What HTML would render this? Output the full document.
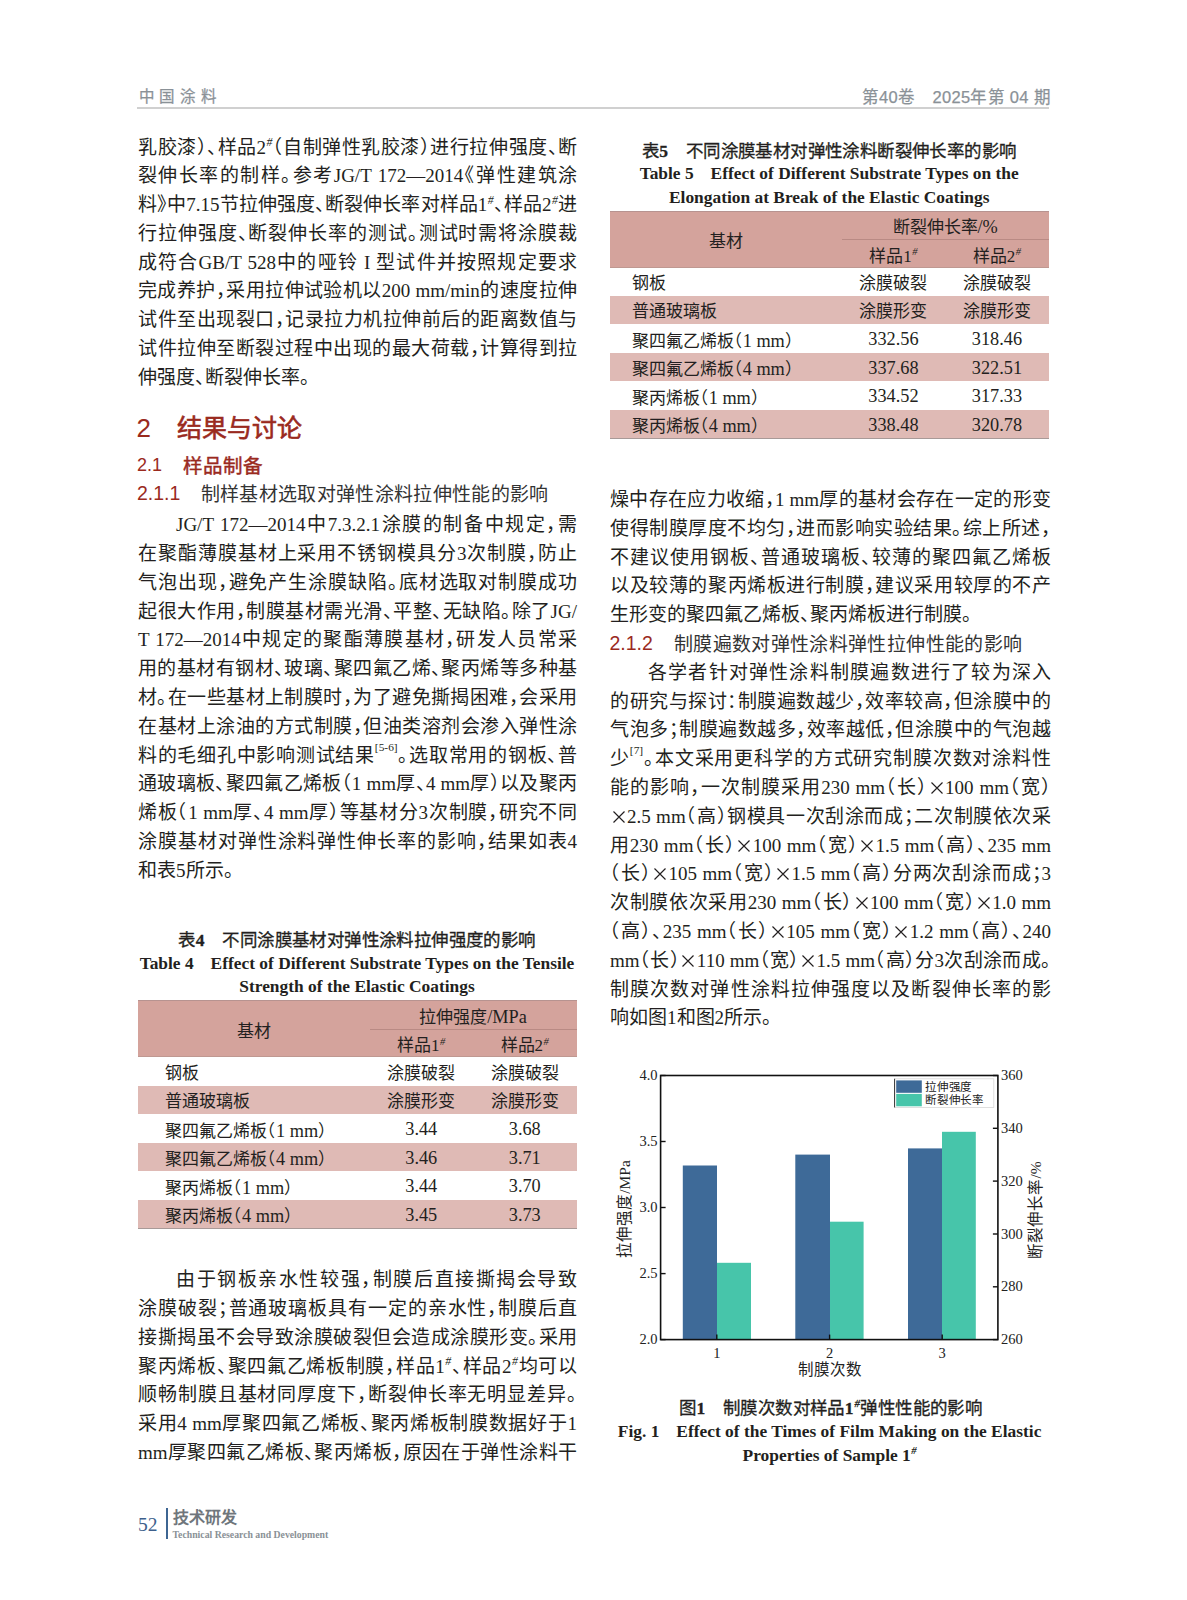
<!DOCTYPE html>
<html lang="zh-CN"><head><meta charset="utf-8"><title>page</title><style>
*{margin:0;padding:0}
html,body{width:1187px;height:1600px;background:#fff;overflow:hidden}
body{position:relative;font-family:"Liberation Serif",serif;color:#231f20}
div{position:absolute;white-space:nowrap}
.ln{font-size:19px;line-height:29px;height:29px;text-align:justify;text-align-last:justify;font-feature-settings:"halt"}
.ln.L{text-align:left;text-align-last:left}
.ln.I{padding-left:38px;box-sizing:border-box}
.x{display:inline-block;width:14px;height:14px;margin:0 1.5px;vertical-align:-1px}
i.h{font-style:italic;font-size:0.62em;position:relative;top:-0.62em;line-height:0;margin-left:0.5px}
i.r{font-style:normal;font-size:0.6em;position:relative;top:-0.95em;line-height:0}
.hd{font-family:"Liberation Sans",sans-serif;color:#8a9197;font-size:15px;line-height:18px;-webkit-text-stroke:0.25px #8a9197}
.h1n{font-family:"Liberation Sans",sans-serif;color:#9a2a1e;font-size:26px;line-height:30px}
.h1{font-family:"Liberation Sans",sans-serif;color:#9a2a1e;font-size:25px;line-height:30px;-webkit-text-stroke:0.6px #9a2a1e}
.h2{font-family:"Liberation Sans",sans-serif;color:#9a2a1e;font-size:18px;line-height:24px}
.h2c{font-family:"Liberation Sans",sans-serif;color:#9a2a1e;font-size:19.5px;line-height:24px;-webkit-text-stroke:0.45px #9a2a1e}
.h3{font-family:"Liberation Sans",sans-serif;color:#9a2a1e;font-size:19.5px;line-height:24px}
.h3c{font-family:"Liberation Sans",sans-serif;color:#333;font-size:19px;letter-spacing:0.35px;line-height:24px}
.thd{background:#d4a39c;border-top:1.5px solid #b79390;border-bottom:1px solid #bf9891;box-sizing:border-box}
.tin{height:1px;background:#b98a84}
.trw{background:#dfbab5}
.tbb{height:1.2px;background:#a89a98}
.tc,.tl{font-size:17px;line-height:28px;text-align:center;font-feature-settings:"halt"}
.tl{text-align:left}
.tn{font-size:18.3px}
.tc .e,.tl .e{font-size:18.3px}
.cap1{font-family:"Liberation Serif",serif;-webkit-text-stroke:0.3px #231f20;font-size:17.5px;letter-spacing:0.4px;line-height:20px;text-align:center}
.cap2{font-family:"Liberation Serif",serif;font-weight:bold;font-size:17.4px;line-height:20px;text-align:center}
</style></head>
<body>
<div class="hd" style="left:138.5px;top:87.6px;font-size:15.5px;letter-spacing:4.8px">中国涂料</div>
<div class="hd" style="left:751px;top:88px;width:300px;text-align:right;font-size:16.5px;letter-spacing:0.3px">第40卷　2025年第 04 期</div>
<div style="left:137px;top:107.3px;width:912px;height:1.3px;background:#d0d0d0"></div>
<div class="ln" style="left:138px;width:439px;top:132.50px">乳胶漆）、样品2<i class="h">#</i>（自制弹性乳胶漆）进行拉伸强度、断</div>
<div class="ln" style="left:138px;width:439px;top:161.28px">裂伸长率的制样。参考JG/T 172—2014《弹性建筑涂</div>
<div class="ln" style="left:138px;width:439px;top:190.06px">料》中7.15节拉伸强度、断裂伸长率对样品1<i class="h">#</i>、样品2<i class="h">#</i>进</div>
<div class="ln" style="left:138px;width:439px;top:218.84px">行拉伸强度、断裂伸长率的测试。测试时需将涂膜裁</div>
<div class="ln" style="left:138px;width:439px;top:247.62px">成符合GB/T 528中的哑铃 I 型试件并按照规定要求</div>
<div class="ln" style="left:138px;width:439px;top:276.40px">完成养护，采用拉伸试验机以200 mm/min的速度拉伸</div>
<div class="ln" style="left:138px;width:439px;top:305.18px">试件至出现裂口，记录拉力机拉伸前后的距离数值与</div>
<div class="ln" style="left:138px;width:439px;top:333.96px">试件拉伸至断裂过程中出现的最大荷载，计算得到拉</div>
<div class="ln L" style="left:138px;width:439px;top:362.74px">伸强度、断裂伸长率。</div>
<div class="h1n" style="left:136.5px;top:413px">2</div>
<div class="h1" style="left:177px;top:412.5px">结果与讨论</div>
<div class="h2" style="left:137px;top:453px">2.1</div>
<div class="h2c" style="left:183px;top:454px">样品制备</div>
<div class="h3" style="left:137px;top:480.5px">2.1.1</div>
<div class="h3c" style="left:200.5px;top:483px">制样基材选取对弹性涂料拉伸性能的影响</div>
<div class="ln I" style="left:138px;width:439px;top:510.30px">JG/T 172—2014中7.3.2.1涂膜的制备中规定，需</div>
<div class="ln" style="left:138px;width:439px;top:539.08px">在聚酯薄膜基材上采用不锈钢模具分3次制膜，防止</div>
<div class="ln" style="left:138px;width:439px;top:567.86px">气泡出现，避免产生涂膜缺陷。底材选取对制膜成功</div>
<div class="ln" style="left:138px;width:439px;top:596.64px">起很大作用，制膜基材需光滑、平整、无缺陷。除了JG/</div>
<div class="ln" style="left:138px;width:439px;top:625.42px">T 172—2014中规定的聚酯薄膜基材，研发人员常采</div>
<div class="ln" style="left:138px;width:439px;top:654.20px">用的基材有钢材、玻璃、聚四氟乙烯、聚丙烯等多种基</div>
<div class="ln" style="left:138px;width:439px;top:682.98px">材。在一些基材上制膜时，为了避免撕揭困难，会采用</div>
<div class="ln" style="left:138px;width:439px;top:711.76px">在基材上涂油的方式制膜，但油类溶剂会渗入弹性涂</div>
<div class="ln" style="left:138px;width:439px;top:740.54px">料的毛细孔中影响测试结果<i class="r">[5-6]</i>。选取常用的钢板、普</div>
<div class="ln" style="left:138px;width:439px;top:769.32px">通玻璃板、聚四氟乙烯板（1 mm厚、4 mm厚）以及聚丙</div>
<div class="ln" style="left:138px;width:439px;top:798.10px">烯板（1 mm厚、4 mm厚）等基材分3次制膜，研究不同</div>
<div class="ln" style="left:138px;width:439px;top:826.88px">涂膜基材对弹性涂料弹性伸长率的影响，结果如表4</div>
<div class="ln L" style="left:138px;width:439px;top:855.66px">和表5所示。</div>
<div class="thd" style="left:137.5px;top:1000.3px;width:439px;height:57px"></div>
<div class="tin" style="left:369.5px;top:1029.0px;width:207px"></div>
<div class="tc" style="left:137.5px;width:232px;top:1017.8px">基材</div>
<div class="tc" style="left:369.5px;width:207px;top:1002.8px">拉伸强度<span class="e">/MPa</span></div>
<div class="tc" style="left:369.5px;width:103.5px;top:1032.3px">样品1<i class="h">#</i></div>
<div class="tc" style="left:473.0px;width:103.5px;top:1032.3px">样品2<i class="h">#</i></div>
<div class="tl" style="left:165.0px;top:1059.80px">钢板</div>
<div class="tc" style="left:369.5px;width:103.5px;top:1059.80px">涂膜破裂</div>
<div class="tc" style="left:473.0px;width:103.5px;top:1059.80px">涂膜破裂</div>
<div class="trw" style="left:137.5px;top:1085.75px;width:439px;height:28.45px"></div>
<div class="tl" style="left:165.0px;top:1088.25px">普通玻璃板</div>
<div class="tc" style="left:369.5px;width:103.5px;top:1088.25px">涂膜形变</div>
<div class="tc" style="left:473.0px;width:103.5px;top:1088.25px">涂膜形变</div>
<div class="tl" style="left:165.0px;top:1116.70px">聚四氟乙烯板（<span class="e">1 mm</span>）</div>
<div class="tc tn" style="left:369.5px;width:103.5px;top:1115.20px">3.44</div>
<div class="tc tn" style="left:473.0px;width:103.5px;top:1115.20px">3.68</div>
<div class="trw" style="left:137.5px;top:1142.65px;width:439px;height:28.45px"></div>
<div class="tl" style="left:165.0px;top:1145.15px">聚四氟乙烯板（<span class="e">4 mm</span>）</div>
<div class="tc tn" style="left:369.5px;width:103.5px;top:1143.65px">3.46</div>
<div class="tc tn" style="left:473.0px;width:103.5px;top:1143.65px">3.71</div>
<div class="tl" style="left:165.0px;top:1173.60px">聚丙烯板（<span class="e">1 mm</span>）</div>
<div class="tc tn" style="left:369.5px;width:103.5px;top:1172.10px">3.44</div>
<div class="tc tn" style="left:473.0px;width:103.5px;top:1172.10px">3.70</div>
<div class="trw" style="left:137.5px;top:1199.55px;width:439px;height:28.45px"></div>
<div class="tl" style="left:165.0px;top:1202.05px">聚丙烯板（<span class="e">4 mm</span>）</div>
<div class="tc tn" style="left:369.5px;width:103.5px;top:1200.55px">3.45</div>
<div class="tc tn" style="left:473.0px;width:103.5px;top:1200.55px">3.73</div>
<div class="tbb" style="left:137.5px;top:1228.00px;width:439px"></div>
<div class="cap1" style="left:57.0px;width:600px;top:930.3px">表<b>4</b>　不同涂膜基材对弹性涂料拉伸强度的影响</div>
<div class="cap2" style="left:57.0px;width:600px;top:952.8px">Table 4　Effect of Different Substrate Types on the Tensile</div>
<div class="cap2" style="left:57.0px;width:600px;top:976.3px">Strength of the Elastic Coatings</div>
<div class="ln I" style="left:138px;width:439px;top:1265.20px">由于钢板亲水性较强，制膜后直接撕揭会导致</div>
<div class="ln" style="left:138px;width:439px;top:1293.98px">涂膜破裂；普通玻璃板具有一定的亲水性，制膜后直</div>
<div class="ln" style="left:138px;width:439px;top:1322.76px">接撕揭虽不会导致涂膜破裂但会造成涂膜形变。采用</div>
<div class="ln" style="left:138px;width:439px;top:1351.54px">聚丙烯板、聚四氟乙烯板制膜，样品1<i class="h">#</i>、样品2<i class="h">#</i>均可以</div>
<div class="ln" style="left:138px;width:439px;top:1380.32px">顺畅制膜且基材同厚度下，断裂伸长率无明显差异。</div>
<div class="ln" style="left:138px;width:439px;top:1409.10px">采用4 mm厚聚四氟乙烯板、聚丙烯板制膜数据好于1</div>
<div class="ln" style="left:138px;width:439px;top:1437.88px">mm厚聚四氟乙烯板、聚丙烯板，原因在于弹性涂料干</div>
<div class="thd" style="left:609.7px;top:210.5px;width:439px;height:57px"></div>
<div class="tin" style="left:841.7px;top:239.2px;width:207px"></div>
<div class="tc" style="left:609.7px;width:232px;top:228.0px">基材</div>
<div class="tc" style="left:841.7px;width:207px;top:213.0px">断裂伸长率<span class="e">/%</span></div>
<div class="tc" style="left:841.7px;width:103.5px;top:242.5px">样品1<i class="h">#</i></div>
<div class="tc" style="left:945.2px;width:103.5px;top:242.5px">样品2<i class="h">#</i></div>
<div class="tl" style="left:631.7px;top:270.00px">钢板</div>
<div class="tc" style="left:841.7px;width:103.5px;top:270.00px">涂膜破裂</div>
<div class="tc" style="left:945.2px;width:103.5px;top:270.00px">涂膜破裂</div>
<div class="trw" style="left:609.7px;top:295.95px;width:439px;height:28.45px"></div>
<div class="tl" style="left:631.7px;top:298.45px">普通玻璃板</div>
<div class="tc" style="left:841.7px;width:103.5px;top:298.45px">涂膜形变</div>
<div class="tc" style="left:945.2px;width:103.5px;top:298.45px">涂膜形变</div>
<div class="tl" style="left:631.7px;top:326.90px">聚四氟乙烯板（<span class="e">1 mm</span>）</div>
<div class="tc tn" style="left:841.7px;width:103.5px;top:325.40px">332.56</div>
<div class="tc tn" style="left:945.2px;width:103.5px;top:325.40px">318.46</div>
<div class="trw" style="left:609.7px;top:352.85px;width:439px;height:28.45px"></div>
<div class="tl" style="left:631.7px;top:355.35px">聚四氟乙烯板（<span class="e">4 mm</span>）</div>
<div class="tc tn" style="left:841.7px;width:103.5px;top:353.85px">337.68</div>
<div class="tc tn" style="left:945.2px;width:103.5px;top:353.85px">322.51</div>
<div class="tl" style="left:631.7px;top:383.80px">聚丙烯板（<span class="e">1 mm</span>）</div>
<div class="tc tn" style="left:841.7px;width:103.5px;top:382.30px">334.52</div>
<div class="tc tn" style="left:945.2px;width:103.5px;top:382.30px">317.33</div>
<div class="trw" style="left:609.7px;top:409.75px;width:439px;height:28.45px"></div>
<div class="tl" style="left:631.7px;top:412.25px">聚丙烯板（<span class="e">4 mm</span>）</div>
<div class="tc tn" style="left:841.7px;width:103.5px;top:410.75px">338.48</div>
<div class="tc tn" style="left:945.2px;width:103.5px;top:410.75px">320.78</div>
<div class="tbb" style="left:609.7px;top:438.20px;width:439px"></div>
<div class="cap1" style="left:529.2px;width:600px;top:140.5px">表<b>5</b>　不同涂膜基材对弹性涂料断裂伸长率的影响</div>
<div class="cap2" style="left:529.2px;width:600px;top:163.0px">Table 5　Effect of Different Substrate Types on the</div>
<div class="cap2" style="left:529.2px;width:600px;top:186.5px">Elongation at Break of the Elastic Coatings</div>
<div class="ln" style="left:610px;width:441px;top:485.00px">燥中存在应力收缩，1 mm厚的基材会存在一定的形变</div>
<div class="ln" style="left:610px;width:441px;top:513.80px">使得制膜厚度不均匀，进而影响实验结果。综上所述，</div>
<div class="ln" style="left:610px;width:441px;top:542.60px">不建议使用钢板、普通玻璃板、较薄的聚四氟乙烯板</div>
<div class="ln" style="left:610px;width:441px;top:571.40px">以及较薄的聚丙烯板进行制膜，建议采用较厚的不产</div>
<div class="ln L" style="left:610px;width:441px;top:600.20px">生形变的聚四氟乙烯板、聚丙烯板进行制膜。</div>
<div class="ln I" style="left:610px;width:441px;top:657.80px">各学者针对弹性涂料制膜遍数进行了较为深入</div>
<div class="ln" style="left:610px;width:441px;top:686.60px">的研究与探讨：制膜遍数越少，效率较高，但涂膜中的</div>
<div class="ln" style="left:610px;width:441px;top:715.40px">气泡多；制膜遍数越多，效率越低，但涂膜中的气泡越</div>
<div class="ln" style="left:610px;width:441px;top:744.20px">少<i class="r">[7]</i>。本文采用更科学的方式研究制膜次数对涂料性</div>
<div class="ln" style="left:610px;width:441px;top:773.00px">能的影响，一次制膜采用230 mm（长）<svg class="x" viewBox="0 0 14 14"><path d="M1.5 1.5L12.5 12.5M12.5 1.5L1.5 12.5" stroke="#231f20" stroke-width="1.15"/></svg>100 mm（宽）</div>
<div class="ln" style="left:610px;width:441px;top:801.80px"><svg class="x" viewBox="0 0 14 14"><path d="M1.5 1.5L12.5 12.5M12.5 1.5L1.5 12.5" stroke="#231f20" stroke-width="1.15"/></svg>2.5 mm（高）钢模具一次刮涂而成；二次制膜依次采</div>
<div class="ln" style="left:610px;width:441px;top:830.60px">用230 mm（长）<svg class="x" viewBox="0 0 14 14"><path d="M1.5 1.5L12.5 12.5M12.5 1.5L1.5 12.5" stroke="#231f20" stroke-width="1.15"/></svg>100 mm（宽）<svg class="x" viewBox="0 0 14 14"><path d="M1.5 1.5L12.5 12.5M12.5 1.5L1.5 12.5" stroke="#231f20" stroke-width="1.15"/></svg>1.5 mm（高）、235 mm</div>
<div class="ln" style="left:610px;width:441px;top:859.40px">（长）<svg class="x" viewBox="0 0 14 14"><path d="M1.5 1.5L12.5 12.5M12.5 1.5L1.5 12.5" stroke="#231f20" stroke-width="1.15"/></svg>105 mm（宽）<svg class="x" viewBox="0 0 14 14"><path d="M1.5 1.5L12.5 12.5M12.5 1.5L1.5 12.5" stroke="#231f20" stroke-width="1.15"/></svg>1.5 mm（高）分两次刮涂而成；3</div>
<div class="ln" style="left:610px;width:441px;top:888.20px">次制膜依次采用230 mm（长）<svg class="x" viewBox="0 0 14 14"><path d="M1.5 1.5L12.5 12.5M12.5 1.5L1.5 12.5" stroke="#231f20" stroke-width="1.15"/></svg>100 mm（宽）<svg class="x" viewBox="0 0 14 14"><path d="M1.5 1.5L12.5 12.5M12.5 1.5L1.5 12.5" stroke="#231f20" stroke-width="1.15"/></svg>1.0 mm</div>
<div class="ln" style="left:610px;width:441px;top:917.00px">（高）、235 mm（长）<svg class="x" viewBox="0 0 14 14"><path d="M1.5 1.5L12.5 12.5M12.5 1.5L1.5 12.5" stroke="#231f20" stroke-width="1.15"/></svg>105 mm（宽）<svg class="x" viewBox="0 0 14 14"><path d="M1.5 1.5L12.5 12.5M12.5 1.5L1.5 12.5" stroke="#231f20" stroke-width="1.15"/></svg>1.2 mm（高）、240</div>
<div class="ln" style="left:610px;width:441px;top:945.80px">mm（长）<svg class="x" viewBox="0 0 14 14"><path d="M1.5 1.5L12.5 12.5M12.5 1.5L1.5 12.5" stroke="#231f20" stroke-width="1.15"/></svg>110 mm（宽）<svg class="x" viewBox="0 0 14 14"><path d="M1.5 1.5L12.5 12.5M12.5 1.5L1.5 12.5" stroke="#231f20" stroke-width="1.15"/></svg>1.5 mm（高）分3次刮涂而成。</div>
<div class="ln" style="left:610px;width:441px;top:974.60px">制膜次数对弹性涂料拉伸强度以及断裂伸长率的影</div>
<div class="ln L" style="left:610px;width:441px;top:1003.40px">响如图1和图2所示。</div>
<div class="h3" style="left:609.5px;top:630.5px">2.1.2</div>
<div class="h3c" style="left:674px;top:632.5px">制膜遍数对弹性涂料弹性拉伸性能的影响</div>
<svg style="position:absolute;left:600px;top:1060px" width="460" height="330" viewBox="600 1060 460 330">
<rect x="682.8" y="1165.5" width="34.2" height="174.1" fill="#3e6a98"/>
<rect x="717.0" y="1262.8" width="34.0" height="76.8" fill="#47c5aa"/>
<rect x="795.3" y="1154.6" width="34.7" height="185.0" fill="#3e6a98"/>
<rect x="830.0" y="1221.7" width="33.6" height="117.9" fill="#47c5aa"/>
<rect x="908.0" y="1148.4" width="34.0" height="191.2" fill="#3e6a98"/>
<rect x="942.0" y="1131.8" width="33.8" height="207.8" fill="#47c5aa"/>
<rect x="660.6" y="1075.5" width="337.3" height="264.1" fill="none" stroke="#111" stroke-width="1.6"/>
<line x1="660.6" y1="1075.5" x2="665.6" y2="1075.5" stroke="#111" stroke-width="1.4"/>
<text x="657.6" y="1080.1" text-anchor="end" font-family="Liberation Serif" font-size="14.5" fill="#222">4.0</text>
<line x1="660.6" y1="1141.5" x2="665.6" y2="1141.5" stroke="#111" stroke-width="1.4"/>
<text x="657.6" y="1146.1" text-anchor="end" font-family="Liberation Serif" font-size="14.5" fill="#222">3.5</text>
<line x1="660.6" y1="1207.5" x2="665.6" y2="1207.5" stroke="#111" stroke-width="1.4"/>
<text x="657.6" y="1212.1" text-anchor="end" font-family="Liberation Serif" font-size="14.5" fill="#222">3.0</text>
<line x1="660.6" y1="1273.6" x2="665.6" y2="1273.6" stroke="#111" stroke-width="1.4"/>
<text x="657.6" y="1278.2" text-anchor="end" font-family="Liberation Serif" font-size="14.5" fill="#222">2.5</text>
<line x1="660.6" y1="1339.6" x2="665.6" y2="1339.6" stroke="#111" stroke-width="1.4"/>
<text x="657.6" y="1344.2" text-anchor="end" font-family="Liberation Serif" font-size="14.5" fill="#222">2.0</text>
<line x1="992.9" y1="1075.5" x2="997.9" y2="1075.5" stroke="#111" stroke-width="1.4"/>
<text x="1000.9" y="1080.1" font-family="Liberation Serif" font-size="14.5" fill="#222">360</text>
<line x1="992.9" y1="1128.3" x2="997.9" y2="1128.3" stroke="#111" stroke-width="1.4"/>
<text x="1000.9" y="1132.9" font-family="Liberation Serif" font-size="14.5" fill="#222">340</text>
<line x1="992.9" y1="1181.1" x2="997.9" y2="1181.1" stroke="#111" stroke-width="1.4"/>
<text x="1000.9" y="1185.7" font-family="Liberation Serif" font-size="14.5" fill="#222">320</text>
<line x1="992.9" y1="1234.0" x2="997.9" y2="1234.0" stroke="#111" stroke-width="1.4"/>
<text x="1000.9" y="1238.6" font-family="Liberation Serif" font-size="14.5" fill="#222">300</text>
<line x1="992.9" y1="1286.8" x2="997.9" y2="1286.8" stroke="#111" stroke-width="1.4"/>
<text x="1000.9" y="1291.4" font-family="Liberation Serif" font-size="14.5" fill="#222">280</text>
<line x1="992.9" y1="1339.6" x2="997.9" y2="1339.6" stroke="#111" stroke-width="1.4"/>
<text x="1000.9" y="1344.2" font-family="Liberation Serif" font-size="14.5" fill="#222">260</text>
<line x1="716.8" y1="1334.6" x2="716.8" y2="1339.6" stroke="#111" stroke-width="1.4"/>
<text x="716.8" y="1358" text-anchor="middle" font-family="Liberation Serif" font-size="14.5" fill="#222">1</text>
<line x1="829.6" y1="1334.6" x2="829.6" y2="1339.6" stroke="#111" stroke-width="1.4"/>
<text x="829.6" y="1358" text-anchor="middle" font-family="Liberation Serif" font-size="14.5" fill="#222">2</text>
<line x1="942.2" y1="1334.6" x2="942.2" y2="1339.6" stroke="#111" stroke-width="1.4"/>
<text x="942.2" y="1358" text-anchor="middle" font-family="Liberation Serif" font-size="14.5" fill="#222">3</text>
<text x="829.5" y="1375" text-anchor="middle" font-family="Liberation Serif" font-size="15.5" fill="#222">制膜次数</text>
<text transform="translate(629.5,1209) rotate(-90)" text-anchor="middle" font-family="Liberation Serif" font-size="15.5" fill="#222">拉伸强度/MPa</text>
<text transform="translate(1040.5,1210) rotate(-90)" text-anchor="middle" font-family="Liberation Serif" font-size="15.5" fill="#222">断裂伸长率/%</text>
<rect x="894.6" y="1078.8" width="99.2" height="28.6" fill="#fff" stroke="#d8d8d8" stroke-width="0.8"/>
<line x1="894.6" y1="1078.8" x2="894.6" y2="1107.4" stroke="#333" stroke-width="1"/>
<rect x="896.2" y="1080.4" width="25.6" height="12.4" fill="#3e6a98"/>
<rect x="896.2" y="1093.9" width="25.6" height="12.4" fill="#47c5aa"/>
<text x="925" y="1090.5" font-family="Liberation Serif" font-size="11.5" letter-spacing="0.75" fill="#222">拉伸强度</text>
<text x="925" y="1104.3" font-family="Liberation Serif" font-size="11.5" letter-spacing="0.75" fill="#222">断裂伸长率</text>
</svg>
<div class="cap1" style="left:530.6px;width:600px;top:1397.5px">图<b>1</b>　制膜次数对样品<b>1</b><i class="h">#</i>弹性性能的影响</div>
<div class="cap2" style="left:529.6px;width:600px;top:1421px">Fig. 1　Effect of the Times of Film Making on the Elastic</div>
<div class="cap2" style="left:529.6px;width:600px;top:1445px">Properties of Sample 1<i class="h">#</i></div>
<div style="left:138px;top:1512.5px;font-size:19.5px;line-height:24px;color:#3d5f8c">52</div>
<div style="left:166px;top:1508px;width:2px;height:31px;background:#3d6592"></div>
<div style="left:172.5px;top:1507.5px;font-family:'Liberation Sans',sans-serif;font-weight:bold;font-size:16px;line-height:20px;color:#6f767c">技术研发</div>
<div style="left:172.5px;top:1528.5px;font-weight:bold;font-size:9.75px;line-height:12px;color:#8a9196">Technical Research and Development</div>
</body></html>
